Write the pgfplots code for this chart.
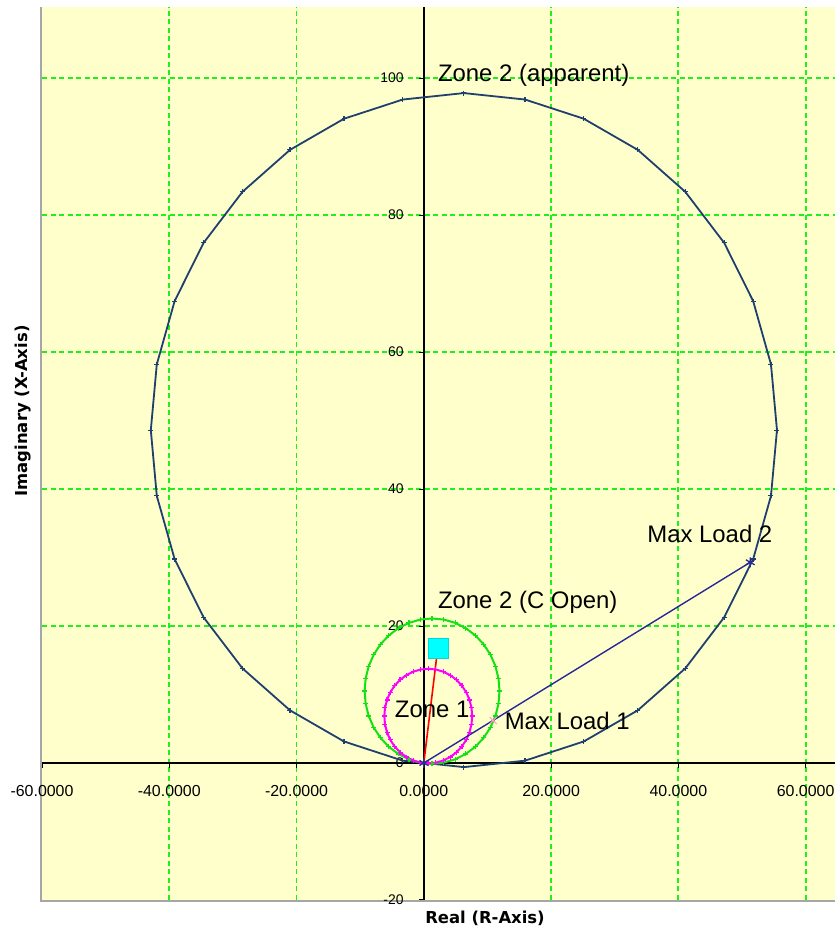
\documentclass[border=0pt]{standalone}
\usepackage{pgfplots}
\pgfplotsset{compat=1.18}
\usepackage{fontspec}
\setmainfont{Liberation Sans}
\newfontfamily\labfont{DejaVu Sans}
\definecolor{bgyellow}{RGB}{255,255,204}
\definecolor{gridgreen}{RGB}{30,240,30}
\definecolor{circblue}{RGB}{31,64,110}
\definecolor{loadblue}{RGB}{40,40,150}
\definecolor{cgreen}{RGB}{20,225,20}
\definecolor{zmag}{RGB}{255,0,255}
\definecolor{pinkx}{RGB}{255,160,200}
\definecolor{sqcyan}{RGB}{0,255,255}
\begin{document}
\begin{tikzpicture}
\useasboundingbox (-42bp,-29bp) rectangle (793bp,900bp);
\draw[gray!70, line width=2bp] (-1bp,893bp) -- (-1bp,-1bp) -- (793bp,-1bp);
\begin{axis}[
  at={(0,0)}, anchor=south west,
  scale only axis, width=793bp, height=893bp,
  xmin=-60, xmax=64.62, ymin=-20, ymax=110.37,
  axis lines=middle,
  axis line style={-, black, line width=1.6bp},
  hide obscured x ticks=false, hide obscured y ticks=false,
  xtick={-40,-20,0,20,40,60},
  ytick={0,20,40,60,80,100},
  extra x ticks={-60}, extra y ticks={-20},
  extra tick style={grid=none},
  grid=major,
  major grid style={dash pattern=on 5bp off 3.5bp, color=gridgreen, line width=1.9bp},
  axis background/.style={fill=bgyellow},
  tick style={black, line width=1bp},
  major tick length=5bp, tick align=outside,
  xticklabel style={font=\fontsize{16}{18}\selectfont, anchor=north, inner sep=0pt, yshift=-17bp,
    /pgf/number format/.cd, fixed, fixed zerofill, precision=4, assume math mode=true},
  yticklabel style={font=\fontsize{14}{16}\selectfont, anchor=east, inner sep=0pt, xshift=-15bp,
    /pgf/number format/.cd, assume math mode=true},
  clip=true,
]
% Zone 2 (apparent)
\addplot[circblue, line width=1.8bp, mark=+, mark size=2.5bp, mark options={solid, line width=1.2bp}] coordinates {
(6.30,97.80) (-3.30,96.86) (-12.53,94.06) (-21.03,89.51) (-28.49,83.39) (-34.61,75.93)
(-39.16,67.43) (-41.96,58.20) (-42.90,48.60) (-41.96,39.00) (-39.16,29.77) (-34.61,21.27)
(-28.49,13.81) (-21.03,7.69) (-12.53,3.14) (-3.30,0.34) (6.30,-0.60) (15.90,0.34)
(25.13,3.14) (33.63,7.69) (41.09,13.81) (47.21,21.27) (51.76,29.77) (54.56,39.00)
(55.50,48.60) (54.56,58.20) (51.76,67.43) (47.21,75.93) (41.09,83.39) (33.63,89.51)
(25.13,94.06) (15.90,96.86) (6.30,97.80)};
% Zone 2 (C Open)
\addplot[cgreen, line width=2bp, mark=+, mark size=2.5bp, mark options={solid, line width=1.2bp}] coordinates {
(11.90,10.50) (11.74,12.34) (11.26,14.13) (10.48,15.80) (9.42,17.31) (8.11,18.62)
(6.60,19.68) (4.93,20.46) (3.14,20.94) (1.30,21.10) (-0.54,20.94) (-2.33,20.46)
(-4.00,19.68) (-5.51,18.62) (-6.82,17.31) (-7.88,15.80) (-8.66,14.13) (-9.14,12.34)
(-9.30,10.50) (-9.14,8.66) (-8.66,6.87) (-7.88,5.20) (-6.82,3.69) (-5.51,2.38)
(-4.00,1.32) (-2.33,0.54) (-0.54,0.06) (1.30,-0.10) (3.14,0.06) (4.93,0.54)
(6.60,1.32) (8.11,2.38) (9.42,3.69) (10.48,5.20) (11.26,6.87) (11.74,8.66) (11.90,10.50)};
% Zone 1
\addplot[zmag, line width=2bp, mark=+, mark size=2.5bp, mark options={solid, line width=1.2bp}] coordinates {
(7.60,6.85) (7.50,8.05) (7.18,9.21) (6.68,10.30) (5.99,11.28) (5.13,12.14)
(4.15,12.83) (3.06,13.33) (1.90,13.65) (0.70,13.75) (-0.50,13.65) (-1.66,13.33)
(-2.75,12.83) (-3.73,12.14) (-4.59,11.28) (-5.28,10.30) (-5.78,9.21) (-6.10,8.05)
(-6.20,6.85) (-6.10,5.65) (-5.78,4.49) (-5.28,3.40) (-4.59,2.42) (-3.73,1.56)
(-2.75,0.87) (-1.66,0.37) (-0.50,0.05) (0.70,-0.05) (1.90,0.05) (3.06,0.37)
(4.15,0.87) (5.13,1.56) (5.99,2.42) (6.68,3.40) (7.18,4.49) (7.50,5.65) (7.60,6.85)};
% red line
\addplot[red, line width=1.6bp] coordinates {(0,0) (2.0,15.3)};
% cyan square
\addplot[only marks, mark=square*, mark size=10bp, mark options={draw=sqcyan!85!black, line width=0.6bp, fill=sqcyan}] coordinates {(2.25,16.7)};
% load line
\addplot[loadblue, line width=1.4bp] coordinates {(0,0) (51.3,29.3)};
\addplot[only marks, mark=x, mark size=5bp, mark options={pinkx, line width=1.1bp}] coordinates {(10.9,6.2)};
\addplot[only marks, mark=asterisk, mark size=5bp, mark options={loadblue, line width=1.3bp}] coordinates {(0,0) (51.3,29.3)};
% labels
\node[anchor=base west, inner sep=0pt, font=\fontsize{24}{28}\selectfont] at (axis cs:2.2,99.5) {Zone 2 (apparent)};
\node[anchor=base west, inner sep=0pt, font=\fontsize{24}{28}\selectfont] at (axis cs:2.2,22.6) {Zone 2 (C Open)};
\node[anchor=base west, inner sep=0pt, font=\fontsize{24}{28}\selectfont] at (axis cs:35.1,32.2) {Max Load 2};
\node[anchor=base west, inner sep=0pt, font=\fontsize{24}{28}\selectfont] at (axis cs:-4.56,6.57) {Zone 1};
\node[anchor=base west, inner sep=0pt, font=\fontsize{24}{28}\selectfont] at (axis cs:12.7,4.96) {Max Load 1};
\end{axis}
\node[anchor=base, inner sep=0pt, font=\labfont\bfseries\fontsize{16.5}{18}\selectfont] at (443bp,-23.3bp) {Real (R-Axis)};
\node[anchor=base, rotate=90, inner sep=0pt, font=\labfont\bfseries\fontsize{16.5}{18}\selectfont] at (-15bp,489bp) {Imaginary (X-Axis)};
\end{tikzpicture}
\end{document}
